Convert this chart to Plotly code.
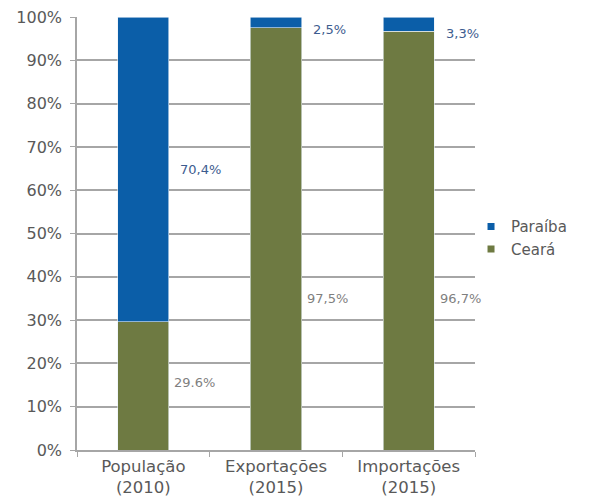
import plotly.graph_objects as go

# Participação percentual de cada estado
categorias = ["População<br>(2010)", "Exportações<br>(2015)", "Importações<br>(2015)"]
ceara = [29.6, 97.5, 96.7]
paraiba = [70.4, 2.5, 3.3]
rotulos_ceara = ["29.6%", "97,5%", "96,7%"]
rotulos_paraiba = ["70,4%", "2,5%", "3,3%"]

# Altura (em %) onde cada rótulo é escrito, à direita da barra
pos_rotulo_ceara = [15.5, 35.0, 35.0]
pos_rotulo_paraiba = [64.8, 97.2, 96.3]

AZUL = "#0b5ea8"
VERDE = "#6e7a42"
FONTE = "'DejaVu Sans', Verdana, sans-serif"

fig = go.Figure()
fig.add_trace(go.Bar(
    name="Ceará", x=categorias, y=[v / 100 for v in ceara], showlegend=False,
    marker=dict(color=VERDE, line=dict(color="#e8f0f8", width=0.6)),
))
fig.add_trace(go.Bar(
    name="Paraíba", x=categorias, y=[v / 100 for v in paraiba], showlegend=False,
    marker=dict(color=AZUL, line=dict(color="#e8f0f8", width=0.6)),
))
# Entradas da legenda com marcador quadrado pequeno
for nome, cor in [("Ceará", VERDE), ("Paraíba", AZUL)]:
    fig.add_trace(go.Scatter(
        name=nome, x=[None], y=[None], mode="markers",
        marker=dict(symbol="square", size=7, color=cor),
    ))

for cat, txt, pos in zip(categorias, rotulos_ceara, pos_rotulo_ceara):
    fig.add_annotation(x=cat, y=pos / 100, text=txt, showarrow=False,
                       xanchor="left", xshift=29, yanchor="middle",
                       font=dict(family=FONTE, size=13, color="#7f7f7f"))
for cat, txt, pos in zip(categorias, rotulos_paraiba, pos_rotulo_paraiba):
    fig.add_annotation(x=cat, y=pos / 100, text=txt, showarrow=False,
                       xanchor="left", xshift=35, yanchor="middle",
                       font=dict(family=FONTE, size=13, color="#3d5c8f"))

fig.update_layout(
    barmode="stack",
    bargap=0.615,
    width=595, height=502,
    margin=dict(l=77, r=120, t=17, b=52, autoexpand=False),
    paper_bgcolor="white", plot_bgcolor="white",
    font=dict(family=FONTE, size=15, color="#595959"),
    legend=dict(traceorder="reversed", x=0.99, y=0.49,
                xanchor="left", yanchor="middle", bgcolor="rgba(0,0,0,0)",
                font=dict(size=15, color="#595959"),
                itemwidth=30, tracegroupgap=6),
    showlegend=True,
)
fig.update_xaxes(
    automargin=False, range=[-0.5, len(categorias) - 0.5],
    showline=True, linecolor="#a6a6a6", linewidth=1.5,
    ticks="outside", tickson="boundaries", ticklen=5, tickcolor="#a6a6a6",
    tickfont=dict(size=16.5, color="#595959"),
)
fig.update_yaxes(
    automargin=False,
    range=[0, 1], dtick=0.1, tickformat=".0%",
    showline=True, linecolor="#a6a6a6", linewidth=1.5,
    ticks="outside", ticklen=5, tickcolor="#a6a6a6", ticklabelstandoff=5,
    showgrid=True, gridcolor="#a6a6a6", gridwidth=1.5,
    zeroline=False, tickfont=dict(size=16, color="#595959"),
)

fig.write_html("out.html")
